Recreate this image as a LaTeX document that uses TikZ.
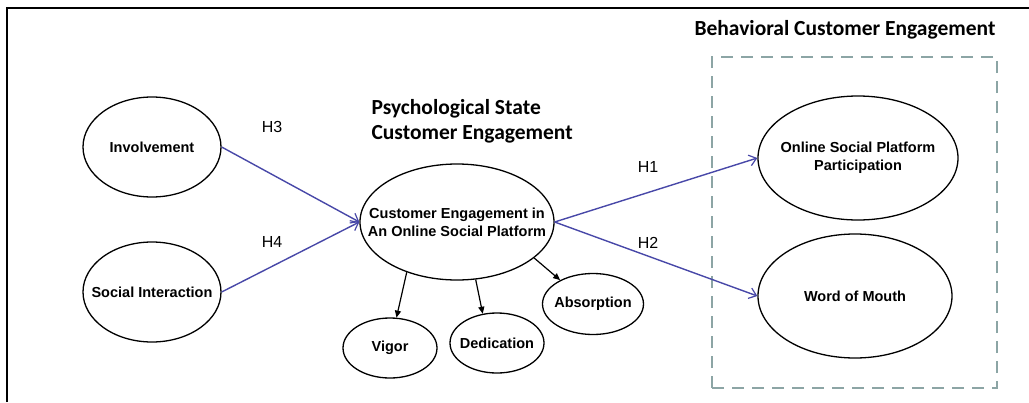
\documentclass[tikz,border=0pt]{standalone}
\usepackage{fontspec}
\setmainfont{Liberation Sans}
\newfontfamily\headfont{Carlito}
\usetikzlibrary{shapes.geometric,arrows.meta}
\definecolor{pathblue}{RGB}{72,72,168}
\definecolor{groupgray}{RGB}{140,165,165}
\begin{document}
\begin{tikzpicture}[x=1pt,y=-1pt,
  construct/.style={ellipse,draw=black,line width=1.3pt,inner sep=0pt},
  ctext/.style={align=center,inner sep=0pt,font=\fontsize{14.5}{18}\selectfont\bfseries},
  hyp/.style={-{Straight Barb[length=7pt,width=11pt,line width=1.2pt]},draw=pathblue,line width=1.4pt},
  dim/.style={-{Triangle[length=7pt,width=6pt]},draw=black,line width=1.2pt},
  hlabel/.style={font=\fontsize{16}{18}\selectfont},
  heading/.style={font=\headfont\fontsize{21.5}{25}\selectfont\bfseries,align=left}]
\useasboundingbox (0,0) rectangle (1029,402);
% frame along the top and left edges
\draw[line width=2pt] (6.5,402) -- (6.5,7.5) -- (1029,7.5);

% behavioural group box
\node[heading,anchor=center] (bhead) at (845,30) {Behavioral Customer Engagement};
\node[draw=groupgray,line width=2.6pt,dash pattern=on 12pt off 8pt,
      minimum width=285pt,minimum height=331pt,inner sep=0pt] (bbox) at (854.5,222.5) {};

% psychological state heading
\node[heading,anchor=west] (phead) at (368,121) {Psychological State\\Customer Engagement};

% constructs (outline and centred text)
\node[construct,minimum width=138pt,minimum height=100pt,
      label={[ctext]center:Involvement}] (inv) at (152,147) {};
\node[construct,minimum width=138pt,minimum height=100pt,
      label={[ctext]center:Social Interaction}] (soc) at (152,292) {};
\node[construct,minimum width=194pt,minimum height=116pt,
      label={[ctext]center:Customer Engagement in\\An Online Social Platform}] (ce) at (457,222) {};
\node[construct,minimum width=94pt,minimum height=60pt,
      label={[ctext]center:Vigor}] (vig) at (390,348) {};
\node[construct,minimum width=94pt,minimum height=60pt,
      label={[ctext]center:Dedication}] (ded) at (497,343) {};
\node[construct,minimum width=101pt,minimum height=61pt,
      label={[ctext]center:Absorption}] (abs) at (593,304) {};
\node[construct,minimum width=200pt,minimum height=124pt,
      label={[ctext]center:Online Social Platform\\Participation}] (osp) at (858,158) {};
\node[construct,minimum width=194pt,minimum height=124pt,
      label={[ctext]center:Word of Mouth}] (wom) at (855,296) {};

% hypothesised paths
\draw[hyp] (inv.east) -- (ce.west);
\draw[hyp] (soc.east) -- (ce.west);
\draw[hyp] (ce.east) -- (osp.west);
\draw[hyp] (ce.east) -- (wom.west);

% dimensions of engagement
\draw[dim] (ce.225) -- (vig.78);
\draw[dim] (ce.288) -- (ded.116);
\draw[dim] (ce.335) -- (abs.144);

% path labels
\node[hlabel] (h3) at (272,127) {H3};
\node[hlabel] (h4) at (272,242) {H4};
\node[hlabel] (h1) at (648,167) {H1};
\node[hlabel] (h2) at (648,243) {H2};
\end{tikzpicture}
\end{document}
